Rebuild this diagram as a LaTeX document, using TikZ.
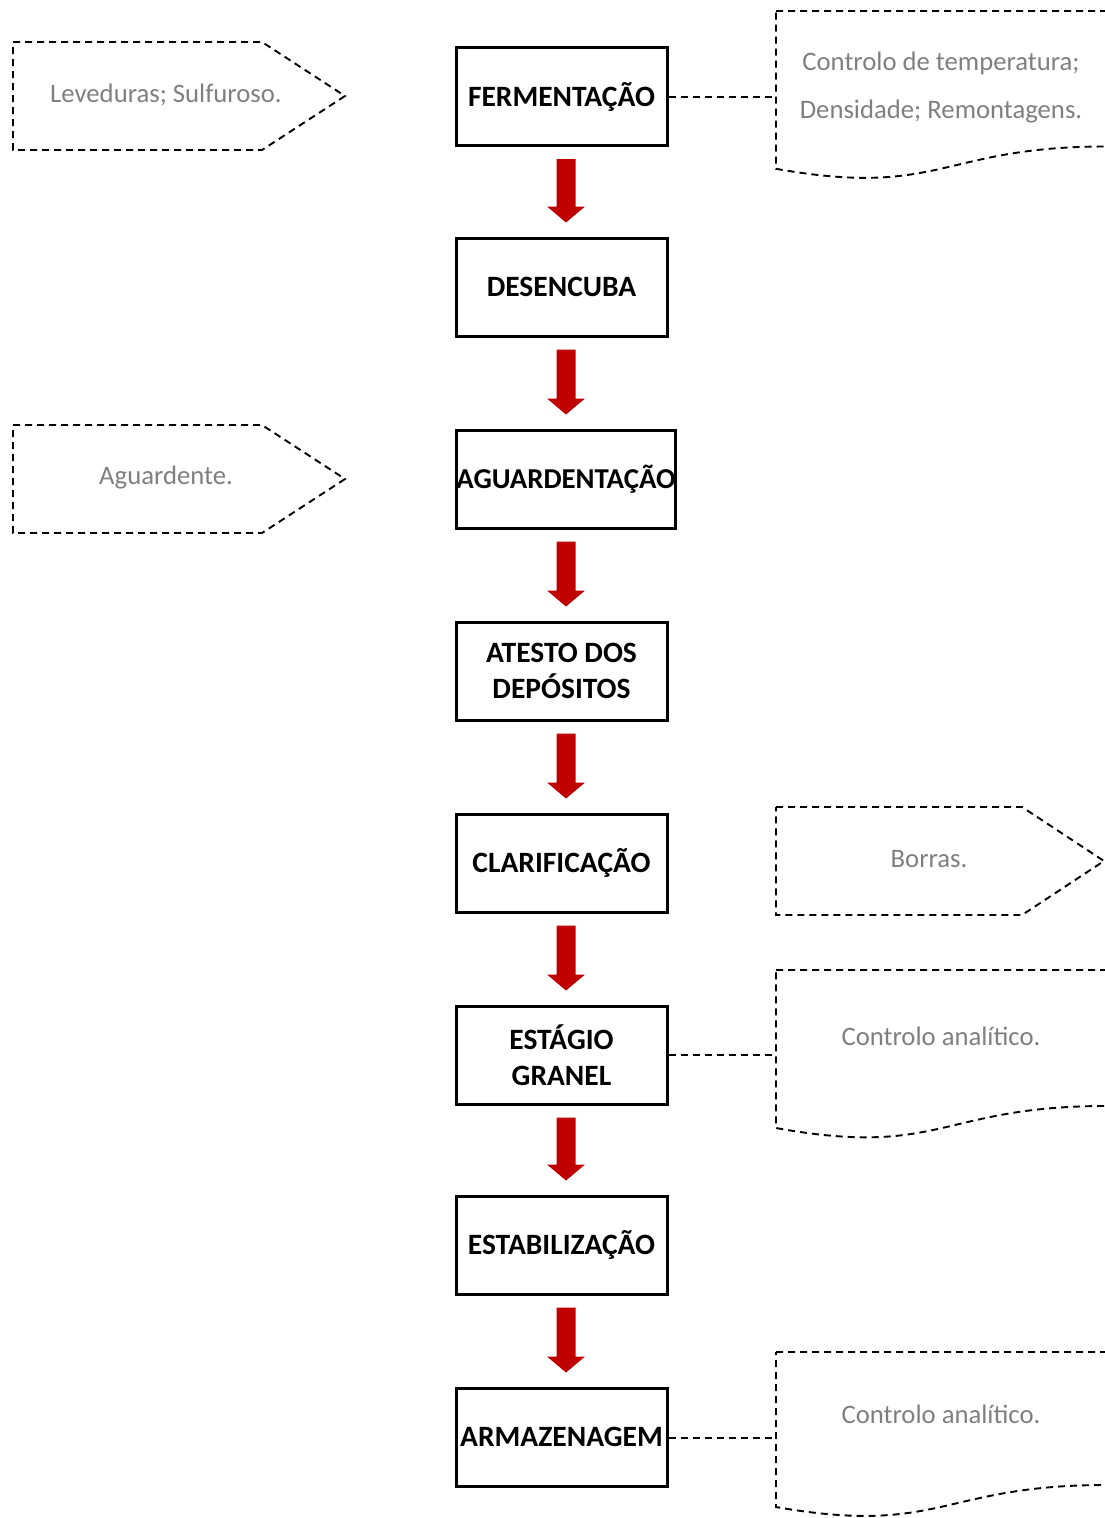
\documentclass[tikz,border=0pt]{standalone}
\usepackage{fontspec}
\setmainfont{Carlito}
\usetikzlibrary{calc}
\definecolor{arrowred}{HTML}{C00000}
\definecolor{notegray}{HTML}{7F7F7F}
\newcommand\myarrow[2]{%
  \fill[arrowred] ($(#1.south -| ax)+(-9.5,12)$) -- ($(#1.south -| ax)+(9.5,12)$)
    -- ($(#2.north -| ax)+(9.5,-30)$) -- ($(#2.north -| ax)+(19,-30)$)
    -- ($(#2.north -| ax)+(0,-14)$) -- ($(#2.north -| ax)+(-19,-30)$)
    -- ($(#2.north -| ax)+(-9.5,-30)$) -- cycle;}
\begin{document}
\begin{tikzpicture}[x=1pt,y=-1pt,
  stepbox/.style={draw=black, line width=3pt, minimum width=211pt, minimum height=98pt,
    inner sep=0pt, align=center, font=\bfseries\fontsize{29.5}{36.5}\selectfont},
  notetext/.style={text=notegray, align=center, inner sep=0pt, font=\fontsize{26.7}{48}\selectfont},
  callout/.style={draw=black, line width=1.9pt, dash pattern=on 7pt off 5pt},
  link/.style={draw=black, line width=1.9pt, dash pattern=on 7pt off 5pt}]
\useasboundingbox (0,0) rectangle (1104,1518);
\coordinate (ax) at (566,0);

% process boxes
\node[stepbox] (fer) at (561.5,96.5) {FERMENTAÇÃO};
\node[stepbox] (des) at (561.5,287) {DESENCUBA};
\node[stepbox, minimum width=219pt, font=\bfseries\fontsize{28.8}{36.5}\selectfont] (agu) at (566,479) {AGUARDENTAÇÃO};
\node[stepbox] (ate) at (561.5,671) {ATESTO DOS\\DEPÓSITOS};
\node[stepbox] (cla) at (561.5,863) {CLARIFICAÇÃO};
\node[stepbox] (est) at (561.5,1055) {ESTÁGIO\\GRANEL};
\node[stepbox] (stb) at (561.5,1245) {ESTABILIZAÇÃO};
\node[stepbox] (arm) at (561.5,1437) {ARMAZENAGEM};

% red block arrows
\myarrow{fer}{des}
\myarrow{des}{agu}
\myarrow{agu}{ate}
\myarrow{ate}{cla}
\myarrow{cla}{est}
\myarrow{est}{stb}
\myarrow{stb}{arm}

% left input callouts (pentagons)
\draw[callout] (13,42) -- (262,42) -- (345,96) -- (262,150) -- (13,150) -- cycle;
\node[notetext] (in1) at (166,95) {Leveduras; Sulfuroso.};
\draw[callout] (13,425) -- (262,425) -- (345,479) -- (262,533) -- (13,533) -- cycle;
\node[notetext] (in2) at (166,478) {Aguardente.};

% right output callout (pentagon)
\draw[callout] (776,807) -- (1022,807) -- (1104,861) -- (1022,915) -- (776,915) -- cycle;
\node[notetext] (out1) at (929,859) {Borras.};

% right document shapes
\draw[callout] (776,11) -- (1106,11) -- (1106,146.5)
  .. controls (941,146.5) and (941,198.2) .. (776,168.8) -- cycle;
\node[notetext] (doc1) at (941,88) {Controlo de temperatura;\\Densidade; Remontagens.};
\coordinate (d1) at (776,97);

\draw[callout] (776,970) -- (1106,970) -- (1106,1106)
  .. controls (941,1106) and (941,1158) .. (776,1128) -- cycle;
\node[notetext] (doc2) at (941,1036) {Controlo analítico.};
\coordinate (d2) at (776,1055);

\draw[callout] (776,1352) -- (1106,1352) -- (1106,1485)
  .. controls (941,1485) and (941,1536) .. (776,1507) -- cycle;
\node[notetext] (doc3) at (941,1414) {Controlo analítico.};
\coordinate (d3) at (776,1438);

% dashed links
\draw[link] (fer.east |- d1) -- (d1);
\draw[link] (est.east) -- (d2);
\draw[link] (arm.east |- d3) -- (d3);
\end{tikzpicture}
\end{document}
